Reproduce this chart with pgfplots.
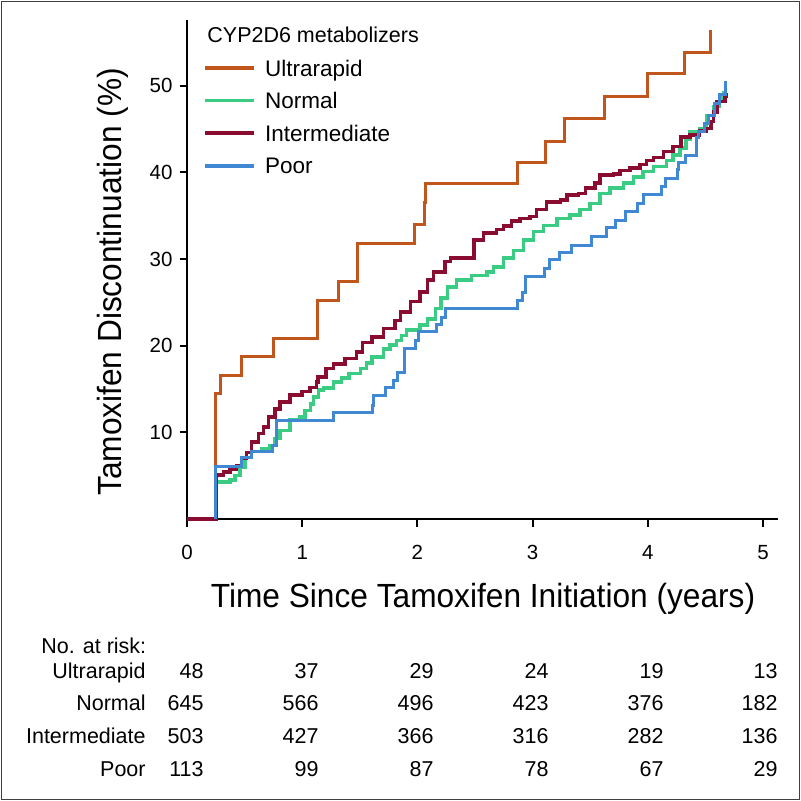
\documentclass[border=0pt]{standalone}
\usepackage{pgfplots}
\pgfplotsset{compat=1.18}
\usepackage{fontspec}
\setmainfont{Liberation Sans}
\newfontfamily\condfont[FakeStretch=0.945]{Liberation Sans}
\definecolor{ultra}{RGB}{192,86,28}
\definecolor{normal}{RGB}{58,204,130}
\definecolor{inter}{RGB}{138,12,48}
\definecolor{poor}{RGB}{64,136,212}
\begin{document}
\begin{tikzpicture}
\path[use as bounding box] (0,0) rectangle (400.5pt,-400.5pt);
\draw[line width=0.9pt, black!75] (0.75pt,-0.75pt) rectangle (399.75pt,-399.75pt);
\begin{axis}[
  at={(93.5pt,-259.5pt)}, anchor=south west,
  scale only axis, width=295.5pt, height=249.5pt,
  xmin=0, xmax=5.13, ymin=0, ymax=57.6,
  axis x line=bottom, axis y line=left,
  axis line style={-, line width=1.25pt},
  xtick={0,1,2,3,4,5}, ytick={10,20,30,40,50},
  tick align=outside, major tick length=3.75pt,
  tick style={line width=1pt, black},
  ticklabel style={font=\fontsize{10.25}{12}\selectfont},
  xticklabel style={yshift=-6pt},
  /pgf/number format/assume math mode=true,
  clip=false,
  legend style={at={(axis description cs:0.028,0.92)}, anchor=north west, draw=none, fill=none,
    inner sep=0pt, outer sep=0pt, row sep=8.2pt, column sep=4.5pt,
    font=\fontsize{11.25}{13.5}\selectfont,
    nodes={inner sep=0pt, text height=8.1pt, text depth=0pt}},
  legend cell align=left,
  legend image code/.code={\draw[#1, line width=1.75pt] (0pt,0pt) -- (24.5pt,0pt);},
]
\addplot[const plot, color=ultra, line width=1.5pt] coordinates {
(0,0) (0.249,14.5) (0.289,16.6) (0.472,18.7) (0.749,20.8) (1.132,25.2) (1.315,27.4)
(1.478,31.8) (1.972,34.0) (2.062,36.5) (2.07,38.7) (2.872,41.1) (3.116,43.6) (3.281,46.2)
(3.622,48.8) (3.996,51.4) (4.32,53.9) (4.544,56.4)};
\addlegendentry{Ultrarapid}
\addplot[const plot, color=normal, line width=1.75pt] coordinates {
(0,0) (0.25,4.3) (0.373,4.5) (0.417,5.0) (0.46,6.0) (0.503,7.1) (0.561,7.8) (0.648,8.1)
(0.72,8.5) (0.764,9.3) (0.807,10.2) (0.894,11.4) (0.981,11.8) (1.024,12.5) (1.072,13.3)
(1.096,14.1) (1.142,14.9) (1.183,15.1) (1.273,15.8) (1.34,16.3) (1.406,16.8) (1.506,17.4)
(1.56,18.0) (1.606,18.7) (1.706,19.6) (1.76,20.1) (1.82,20.6) (1.86,21.2) (1.905,21.8)
(2.022,22.4) (2.089,23.1) (2.156,24.3) (2.206,25.5) (2.26,26.8) (2.34,27.6) (2.47,28.1)
(2.605,28.5) (2.66,29.1) (2.746,30.1) (2.833,31.0) (2.92,32.2) (3.006,33.2) (3.093,33.9)
(3.21,34.7) (3.325,35.1) (3.41,35.7) (3.50,36.4) (3.585,37.6) (3.67,38.2) (3.79,38.8)
(3.875,39.5) (3.96,40.1) (4.05,40.7) (4.16,41.4) (4.22,42.0) (4.28,42.8) (4.33,43.8)
(4.365,44.7) (4.45,45.1) (4.51,46.6) (4.57,47.6) (4.62,48.6) (4.66,49.2) (4.67,49.3)};
\addlegendentry{Normal}
\addplot[const plot, color=inter, line width=1.75pt] coordinates {
(0,0) (0.25,5.1) (0.315,5.4) (0.373,5.7) (0.431,6.2) (0.475,7.0) (0.518,7.7) (0.561,8.9)
(0.619,9.85) (0.662,10.6) (0.706,11.8) (0.764,12.7) (0.807,13.5) (0.894,14.3) (0.996,14.7)
(1.068,15.2) (1.126,15.8) (1.139,16.4) (1.206,17.4) (1.273,17.9) (1.372,18.5) (1.472,19.3)
(1.522,20.4) (1.606,21.0) (1.706,22.0) (1.806,22.9) (1.855,23.9) (1.939,25.1) (2.022,26.2)
(2.089,27.6) (2.139,28.5) (2.239,29.7) (2.288,30.1) (2.489,32.2) (2.572,33.0) (2.688,33.4)
(2.746,33.8) (2.818,34.4) (2.891,34.7) (2.977,34.9) (3.035,35.7) (3.12,36.6) (3.24,36.8)
(3.30,37.4) (3.40,37.6) (3.46,38.2) (3.54,38.8) (3.585,39.7) (3.70,39.8) (3.76,40.2)
(3.845,40.5) (3.93,40.9) (3.99,41.4) (4.05,41.7) (4.135,42.4) (4.22,43.0) (4.29,44.1)
(4.365,44.3) (4.45,44.8) (4.51,45.1) (4.55,45.9) (4.57,47.0) (4.60,48.2) (4.67,48.8) (4.685,49.2)};
\addlegendentry{Intermediate}
\addplot[const plot, color=poor, line width=1.5pt] coordinates {
(0.249,0) (0.249,6.1) (0.475,7.1) (0.561,7.8) (0.745,8.5) (0.774,11.4) (1.27,12.35)
(1.61,13.1) (1.62,14.3) (1.72,15.2) (1.79,16.0) (1.83,16.9) (1.89,19.7) (1.98,20.6)
(2.01,21.6) (2.165,22.5) (2.21,23.3) (2.24,24.3) (2.87,25.2) (2.91,26.1) (2.94,28.0)
(3.10,28.9) (3.15,29.9) (3.23,30.8) (3.34,31.6) (3.51,32.6) (3.645,33.7) (3.72,34.5)
(3.81,35.5) (3.91,36.4) (3.96,37.4) (4.12,38.4) (4.15,39.3) (4.26,40.3) (4.27,41.2)
(4.33,42.0) (4.42,44.0) (4.44,44.7) (4.49,45.7) (4.53,46.6) (4.58,48.0) (4.62,49.0) (4.67,50.5)};
\addlegendentry{Poor}
\end{axis}
% legend title
\node[anchor=base west, inner sep=0pt, font=\fontsize{10.75}{13}\selectfont] at (103.5pt,-21.35pt) {CYP2D6 metabolizers};
% axis titles
\node[anchor=base, inner sep=0pt, font=\condfont\fontsize{16.75}{20}\selectfont] at (241.5pt,-303.5pt) {Time Since Tamoxifen Initiation (years)};
\node[anchor=base, rotate=90, inner sep=0pt, font=\condfont\fontsize{16.75}{20}\selectfont] at (60.5pt,-141pt) {Tamoxifen Discontinuation (\%)};
% risk table
\begin{scope}[every node/.style={anchor=base east, inner sep=0pt, font=\fontsize{10.75}{13}\selectfont}]
\node at (73.3pt,-326.7pt) {No. at risk:};
\node at (73pt,-339.2pt) {Ultrarapid};
\node at (73pt,-355.4pt) {Normal};
\node at (73pt,-371.7pt) {Intermediate};
\node at (73pt,-388.4pt) {Poor};
\foreach \xx/\a/\b/\c/\d in {102/48/645/503/113, 159.5/37/566/427/99, 217/29/496/366/87, 274.5/24/423/316/78, 332/19/376/282/67, 389/13/182/136/29}{
  \node at (\xx pt,-339.2pt) {\a};
  \node at (\xx pt,-355.4pt) {\b};
  \node at (\xx pt,-371.7pt) {\c};
  \node at (\xx pt,-388.4pt) {\d};
}
\end{scope}
\end{tikzpicture}
\end{document}
